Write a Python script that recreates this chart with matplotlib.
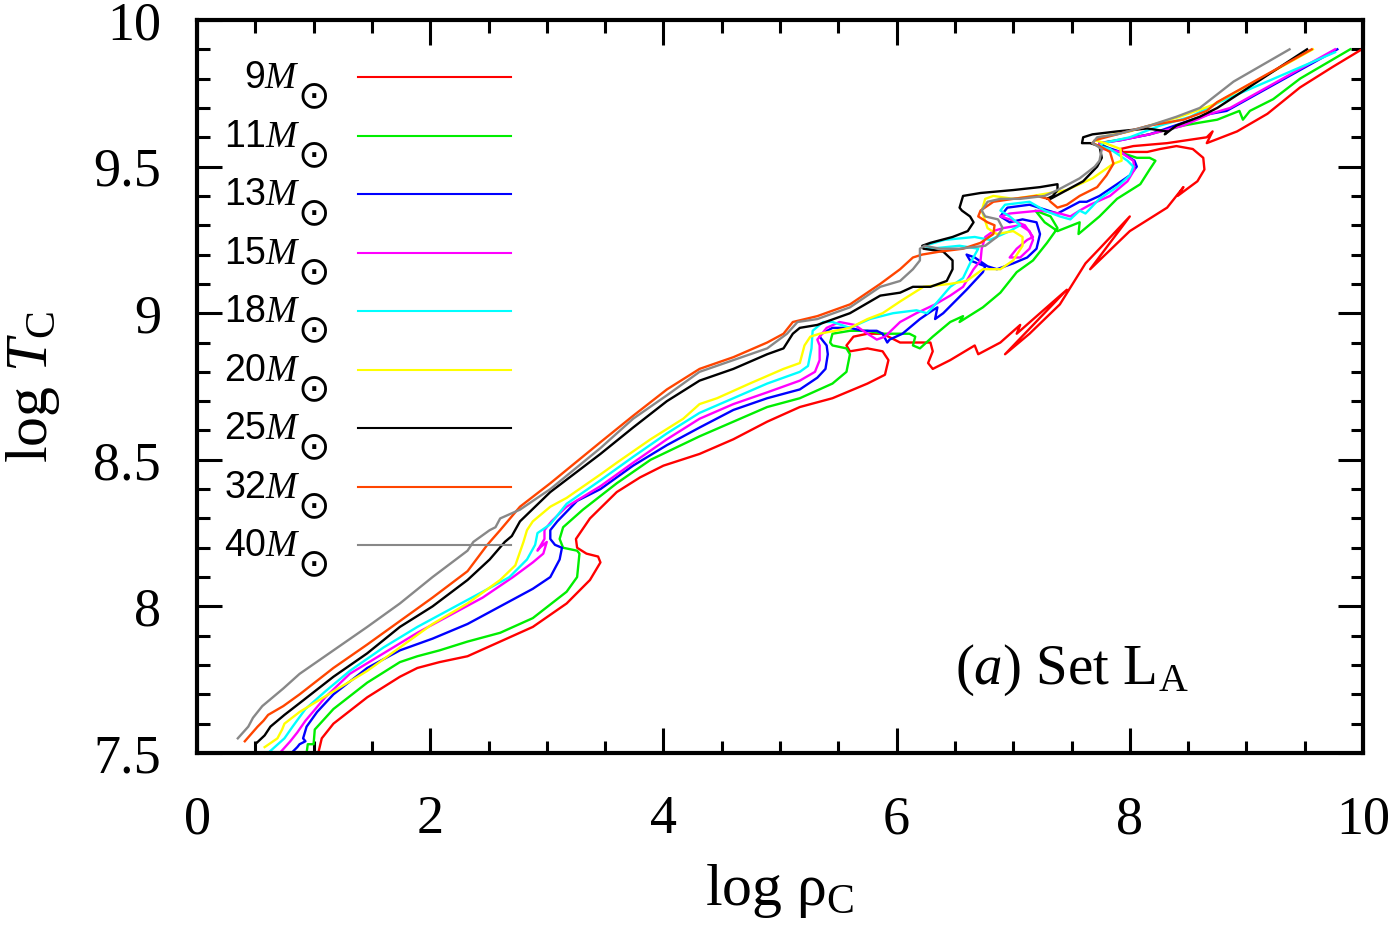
import matplotlib
matplotlib.use('Agg')
import matplotlib.pyplot as plt
import numpy as np

plt.rcParams['mathtext.fontset'] = 'custom'
plt.rcParams['mathtext.rm'] = 'Liberation Serif'
plt.rcParams['mathtext.it'] = 'Liberation Serif:italic'
plt.rcParams['font.family'] = ['Liberation Serif', 'DejaVu Serif']

# (log rho_C, log T_C), one list per initial mass
track_9 = [(1.04,7.50),(1.07,7.55),(1.17,7.60),(1.46,7.69),(1.74,7.76),(1.89,7.79),(2.08,7.81),(2.32,7.83),
           (2.60,7.88),(2.88,7.93),(3.17,8.01),(3.37,8.09),(3.46,8.15),(3.44,8.17),(3.34,8.18),(3.26,8.20),
           (3.25,8.23),(3.37,8.30),(3.60,8.39),(3.80,8.44),(4.00,8.48),(4.31,8.52),(4.60,8.57),(4.89,8.63),
           (5.17,8.68),(5.45,8.71),(5.75,8.76),(5.90,8.79),(5.93,8.84),(5.88,8.87),(5.75,8.88),(5.60,8.87),
           (5.57,8.89),(5.63,8.92),(5.75,8.93),(5.88,8.93),(6.03,8.90),(6.29,8.90),(6.31,8.87),(6.27,8.83),
           (6.31,8.81),(6.46,8.84),(6.67,8.89),(6.70,8.86),(6.89,8.90),(7.06,8.96),(7.03,8.93),(7.23,9.00),
           (7.46,9.08),(6.93,8.86),(7.14,8.93),(7.40,9.03),(7.62,9.17),(7.74,9.22),(8.00,9.33),(7.66,9.15),
           (8.00,9.28),(8.32,9.36),(8.46,9.43),(8.41,9.40),(8.58,9.45),(8.64,9.49),(8.63,9.53),(8.54,9.56),
           (8.40,9.57),(8.26,9.56),(8.15,9.55),(7.94,9.55),(7.92,9.56),(8.03,9.57),(8.32,9.58),(8.66,9.60),
           (8.71,9.62),(8.66,9.58),(8.92,9.62),(9.18,9.68),(9.46,9.77),(9.74,9.84),(9.99,9.90)]
track_11 = [(0.94,7.50),(0.95,7.53),(1.00,7.53),(1.01,7.58),(1.17,7.65),(1.46,7.74),(1.74,7.81),(1.89,7.83),
            (2.08,7.85),(2.32,7.88),(2.60,7.91),(2.88,7.96),(3.17,8.05),(3.26,8.10),(3.28,8.18),(3.26,8.19),
            (3.14,8.20),(3.11,8.23),(3.14,8.27),(3.31,8.33),(3.60,8.42),(3.89,8.50),(4.31,8.58),(4.60,8.63),
            (4.89,8.68),(5.17,8.71),(5.45,8.76),(5.57,8.80),(5.60,8.86),(5.57,8.88),(5.45,8.89),(5.43,8.90),
            (5.45,8.93),(5.60,8.94),(5.75,8.94),(5.88,8.93),(6.11,8.93),(6.16,8.92),(6.14,8.89),(6.20,8.88),
            (6.31,8.92),(6.46,8.97),(6.57,8.99),(6.54,8.97),(6.74,9.02),(6.89,9.07),(7.03,9.14),(7.17,9.18),
            (7.29,9.24),(7.38,9.29),(7.32,9.33),(7.19,9.35),(7.27,9.31),(7.38,9.28),(7.57,9.31),(7.56,9.27),
            (7.74,9.33),(7.89,9.39),(8.09,9.44),(8.17,9.49),(8.22,9.52),(8.17,9.53),(8.06,9.53),(7.83,9.56),
            (7.74,9.58),(8.03,9.60),(8.17,9.61),(8.46,9.64),(8.60,9.65),(8.75,9.66),(8.94,9.69),(8.97,9.66),
            (9.03,9.69),(9.23,9.73),(9.46,9.80),(9.89,9.90)]
track_13 = [(0.81,7.50),(0.86,7.52),(0.88,7.53),(0.93,7.54),(0.91,7.55),(0.94,7.59),(1.03,7.64),(1.17,7.70),
            (1.46,7.79),(1.74,7.85),(2.02,7.89),(2.32,7.94),(2.60,8.00),(2.88,8.06),(3.03,8.10),(3.11,8.16),
            (3.13,8.20),(3.07,8.21),(3.03,8.23),(3.03,8.26),(3.09,8.29),(3.26,8.36),(3.46,8.40),(3.74,8.48),
            (4.03,8.55),(4.31,8.61),(4.60,8.67),(4.89,8.71),(5.17,8.74),(5.32,8.78),(5.39,8.81),(5.41,8.86),
            (5.40,8.89),(5.34,8.92),(5.36,8.93),(5.45,8.95),(5.60,8.95),(5.71,8.94),(5.83,8.94),(5.88,8.93),
            (5.92,8.90),(5.94,8.91),(6.05,8.93),(6.20,8.98),(6.31,9.01),(6.35,9.02),(6.33,8.98),(6.40,9.00),
            (6.60,9.08),(6.74,9.14),(6.76,9.16),(6.63,9.18),(6.60,9.20),(6.67,9.19),(6.78,9.16),(6.86,9.15),
            (7.00,9.17),(7.12,9.19),(7.20,9.22),(7.23,9.27),(7.20,9.31),(7.08,9.32),(6.97,9.31),(6.89,9.33),
            (6.95,9.36),(7.14,9.37),(7.38,9.34),(7.57,9.38),(7.63,9.38),(7.74,9.40),(7.89,9.44),(8.00,9.47),
            (8.06,9.50),(8.04,9.52),(7.92,9.55),(7.77,9.57),(7.74,9.58),(7.92,9.59),(8.17,9.61),(8.46,9.65),
            (8.69,9.68),(8.83,9.69),(9.78,9.90)]
track_15 = [(0.71,7.50),(0.80,7.54),(0.86,7.57),(0.93,7.61),(1.10,7.69),(1.31,7.77),(1.60,7.84),(1.89,7.91),
            (2.17,7.97),(2.45,8.03),(2.71,8.10),(2.88,8.15),(2.97,8.18),(3.00,8.22),(2.94,8.20),(2.92,8.19),
            (2.98,8.23),(2.98,8.26),(3.04,8.29),(3.17,8.34),(3.46,8.41),(3.74,8.49),(4.03,8.57),(4.31,8.64),
            (4.60,8.69),(4.89,8.73),(5.17,8.77),(5.30,8.80),(5.34,8.84),(5.34,8.89),(5.32,8.91),(5.40,8.95),
            (5.51,8.97),(5.64,8.96),(5.75,8.93),(5.83,8.91),(5.90,8.92),(6.03,8.97),(6.17,9.00),(6.33,9.03),
            (6.46,9.06),(6.57,9.09),(6.66,9.15),(6.72,9.18),(6.73,9.22),(6.76,9.26),(6.83,9.28),(6.91,9.29),
            (7.06,9.30),(7.14,9.28),(7.17,9.25),(7.14,9.22),(7.06,9.19),(6.97,9.19),(7.03,9.22),(7.12,9.25),
            (7.17,9.26),(7.10,9.30),(6.97,9.32),(6.89,9.33),(6.97,9.34),(7.23,9.35),(7.40,9.34),(7.49,9.33),
            (7.57,9.35),(7.66,9.37),(7.83,9.40),(7.98,9.45),(8.04,9.49),(8.03,9.52),(7.92,9.55),(7.77,9.56),
            (7.74,9.58),(7.92,9.59),(8.17,9.61),(8.46,9.64),(8.69,9.68),(8.86,9.70),(9.76,9.90)]
track_18 = [(0.61,7.50),(0.75,7.55),(0.82,7.59),(0.93,7.65),(1.10,7.71),(1.31,7.78),(1.60,7.86),(1.89,7.93),
            (2.17,7.99),(2.45,8.05),(2.68,8.10),(2.83,8.16),(2.90,8.21),(2.92,8.25),(3.03,8.28),(3.17,8.35),
            (3.46,8.43),(3.74,8.51),(4.03,8.59),(4.31,8.66),(4.60,8.71),(4.89,8.76),(5.17,8.80),(5.24,8.82),
            (5.27,8.88),(5.28,8.94),(5.37,8.97),(5.45,8.97),(5.60,8.95),(5.77,8.98),(5.97,9.00),(6.17,9.01),
            (6.26,9.00),(6.31,9.02),(6.46,9.09),(6.57,9.12),(6.63,9.17),(6.70,9.22),(6.54,9.23),(6.29,9.22),
            (6.24,9.23),(6.41,9.25),(6.67,9.26),(6.80,9.25),(6.97,9.28),(7.06,9.30),(6.97,9.33),(6.89,9.35),
            (6.93,9.37),(7.14,9.38),(7.27,9.35),(7.40,9.33),(7.49,9.32),(7.57,9.35),(7.62,9.34),(7.74,9.39),
            (7.89,9.43),(8.00,9.47),(8.03,9.50),(7.98,9.52),(7.83,9.56),(7.74,9.57),(7.77,9.58),(8.00,9.60),
            (8.26,9.64),(8.52,9.67),(8.77,9.72),(9.76,9.89)]
track_20 = [(0.58,7.52),(0.69,7.55),(0.73,7.58),(0.75,7.60),(0.88,7.64),(1.17,7.71),(1.46,7.78),(1.74,7.86),
            (2.02,7.94),(2.32,8.01),(2.60,8.09),(2.73,8.14),(2.80,8.22),(2.83,8.26),(2.88,8.29),(3.03,8.34),
            (3.17,8.37),(3.46,8.45),(3.60,8.49),(3.89,8.57),(4.17,8.64),(4.31,8.69),(4.46,8.71),(4.74,8.76),
            (5.03,8.81),(5.17,8.83),(5.21,8.89),(5.26,8.92),(5.34,8.93),(5.60,8.95),(5.75,8.98),(5.88,9.00),
            (6.03,9.04),(6.23,9.09),(6.46,9.10),(6.60,9.11),(6.74,9.15),(6.89,9.15),(7.00,9.18),(7.08,9.23),
            (7.08,9.26),(7.00,9.28),(6.86,9.27),(6.78,9.29),(6.73,9.35),(6.76,9.39),(6.83,9.40),(7.00,9.39),
            (7.17,9.40),(7.46,9.42),(7.68,9.46),(7.86,9.51),(7.93,9.52),(7.92,9.56),(7.79,9.58),(7.70,9.59),
            (7.74,9.60),(8.00,9.62),(8.43,9.67),(8.71,9.71),(9.57,9.90)]
track_25 = [(0.50,7.50),(0.50,7.53),(0.58,7.56),(0.63,7.59),(0.75,7.63),(0.88,7.67),(1.17,7.76),(1.46,7.84),
            (1.74,7.93),(2.02,8.00),(2.32,8.09),(2.51,8.16),(2.64,8.22),(2.70,8.24),(2.77,8.29),(3.03,8.39),
            (3.46,8.52),(3.74,8.61),(4.03,8.70),(4.31,8.77),(4.60,8.81),(4.89,8.86),(5.03,8.88),(5.11,8.93),
            (5.17,8.95),(5.32,8.96),(5.60,9.00),(5.86,9.06),(6.03,9.07),(6.14,9.09),(6.29,9.09),(6.43,9.11),
            (6.48,9.15),(6.48,9.18),(6.40,9.21),(6.23,9.22),(6.22,9.23),(6.29,9.24),(6.48,9.26),(6.61,9.28),
            (6.66,9.31),(6.63,9.33),(6.56,9.35),(6.54,9.36),(6.57,9.40),(6.72,9.41),(7.00,9.42),(7.23,9.43),
            (7.38,9.44),(7.38,9.42),(7.34,9.40),(7.29,9.39),(7.32,9.39),(7.46,9.42),(7.60,9.45),(7.72,9.50),
            (7.76,9.53),(7.74,9.57),(7.66,9.58),(7.59,9.58),(7.60,9.60),(7.68,9.61),(7.89,9.62),(8.15,9.63),
            (8.32,9.62),(8.30,9.61),(8.40,9.64),(8.60,9.67),(8.75,9.70),(9.52,9.90)]
track_32 = [(0.41,7.54),(0.52,7.59),(0.57,7.61),(0.61,7.63),(0.74,7.66),(0.88,7.70),(1.17,7.79),(1.46,7.87),
            (1.74,7.95),(2.02,8.03),(2.32,8.12),(2.49,8.21),(2.60,8.26),(2.77,8.34),(3.03,8.42),(3.46,8.56),
            (3.74,8.65),(4.03,8.74),(4.31,8.81),(4.60,8.85),(4.89,8.90),(5.03,8.93),(5.11,8.97),(5.32,8.99),
            (5.60,9.03),(5.86,9.10),(6.03,9.15),(6.14,9.19),(6.22,9.20),(6.37,9.21),(6.57,9.22),(6.72,9.24),
            (6.83,9.27),(6.84,9.30),(6.78,9.31),(6.70,9.33),(6.72,9.35),(6.83,9.38),(7.00,9.39),(7.20,9.40),
            (7.30,9.39),(7.32,9.38),(7.38,9.36),(7.46,9.37),(7.57,9.40),(7.72,9.43),(7.80,9.47),(7.86,9.51),
            (7.83,9.55),(7.74,9.57),(7.68,9.58),(7.70,9.59),(7.89,9.61),(8.17,9.64),(8.46,9.66),(8.66,9.69),
            (8.75,9.72),(9.56,9.90)]
track_40 = [(0.35,7.55),(0.44,7.59),(0.48,7.62),(0.52,7.64),(0.56,7.66),(0.74,7.72),(0.88,7.77),(1.17,7.85),
            (1.46,7.93),(1.74,8.01),(2.02,8.10),(2.32,8.19),(2.37,8.22),(2.51,8.26),(2.56,8.27),(2.60,8.30),
            (2.77,8.33),(3.03,8.40),(3.46,8.54),(3.74,8.64),(4.03,8.72),(4.31,8.80),(4.60,8.84),(4.89,8.88),
            (5.06,8.93),(5.15,8.97),(5.32,8.98),(5.60,9.02),(5.86,9.09),(6.03,9.11),(6.14,9.15),(6.20,9.18),
            (6.20,9.22),(6.24,9.23),(6.37,9.22),(6.54,9.22),(6.76,9.23),(6.86,9.26),(6.91,9.29),(6.87,9.32),
            (6.76,9.33),(6.73,9.35),(6.78,9.38),(6.89,9.39),(7.06,9.39),(7.27,9.40),(7.38,9.42),(7.57,9.46),
            (7.70,9.50),(7.74,9.52),(7.76,9.56),(7.68,9.58),(7.72,9.60),(7.89,9.61),(8.17,9.64),(8.40,9.67),
            (8.60,9.70),(8.89,9.79),(9.37,9.90)]

masses = [9, 11, 13, 15, 18, 20, 25, 32, 40]
tracks = [track_9, track_11, track_13, track_15, track_18, track_20, track_25, track_32, track_40]
colors = ['#ff0000', '#00ee00', '#0000ff', '#ff00ff', '#00ffff', '#ffff00', '#000000', '#ff4500', '#888888']

xmajor = [0, 2, 4, 6, 8, 10]
ymajor = [7.5, 8, 8.5, 9, 9.5, 10]
ylabels = ['7.5', '8', '8.5', '9', '9.5', '10']

fig = plt.figure(figsize=(14, 9.34), dpi=100)
ax = fig.add_axes([197/1400, 1 - 753/934, 1166/1400, 733/934])

for m, tr, c in zip(masses, tracks, colors):
    a = np.array(tr)
    ax.plot(a[:, 0], a[:, 1], color=c, lw=1.7)

# key: right-aligned "nM", a lowered sun symbol, then the line sample
for i, (m, c) in enumerate(zip(masses, colors)):
    yk = 0.922 - i * 0.0798
    ax.plot([0.138, 0.269], [yk, yk], color=c, lw=1.5, transform=ax.transAxes)
    ax.text(0.0885, yk - 0.015, '%d$M$' % m, ha='right', va='baseline',
            fontsize=27, family=['Liberation Sans', 'DejaVu Sans'], transform=ax.transAxes)
    ax.text(0.0862, yk - 0.041, '\u2299', ha='left', va='baseline',
            fontsize=28, family=['DejaVu Sans'], transform=ax.transAxes)

ax.text(0.650, 0.095, r'($a$) Set L$_{\mathrm{A}}$', fontsize=41, ha='left', va='baseline',
        transform=ax.transAxes)

ax.set_xlim(0, 10)
ax.set_ylim(7.5, 10)
ax.set_xticks(xmajor)
ax.set_xticklabels([str(v) for v in xmajor])
ax.set_xticks(np.arange(0, 10.01, 0.5), minor=True)
ax.set_yticks(ymajor)
ax.set_yticklabels(ylabels)
ax.set_yticks(np.arange(7.5, 10.001, 0.1), minor=True)
ax.tick_params(which='both', direction='in', top=True, right=True, width=2.2, labelsize=39)
ax.tick_params(which='major', length=18)
ax.tick_params(which='minor', length=9)
ax.tick_params(axis='x', pad=30)
ax.tick_params(axis='y', pad=26)
for s in ax.spines.values():
    s.set_linewidth(3)

ax.set_xlabel('log ρ$_{\\mathrm{C}}$', fontsize=43, labelpad=12)
ax.set_ylabel('log $T_{\\mathrm{C}}$', fontsize=43, labelpad=22)

fig.savefig('out.png', dpi=100)
